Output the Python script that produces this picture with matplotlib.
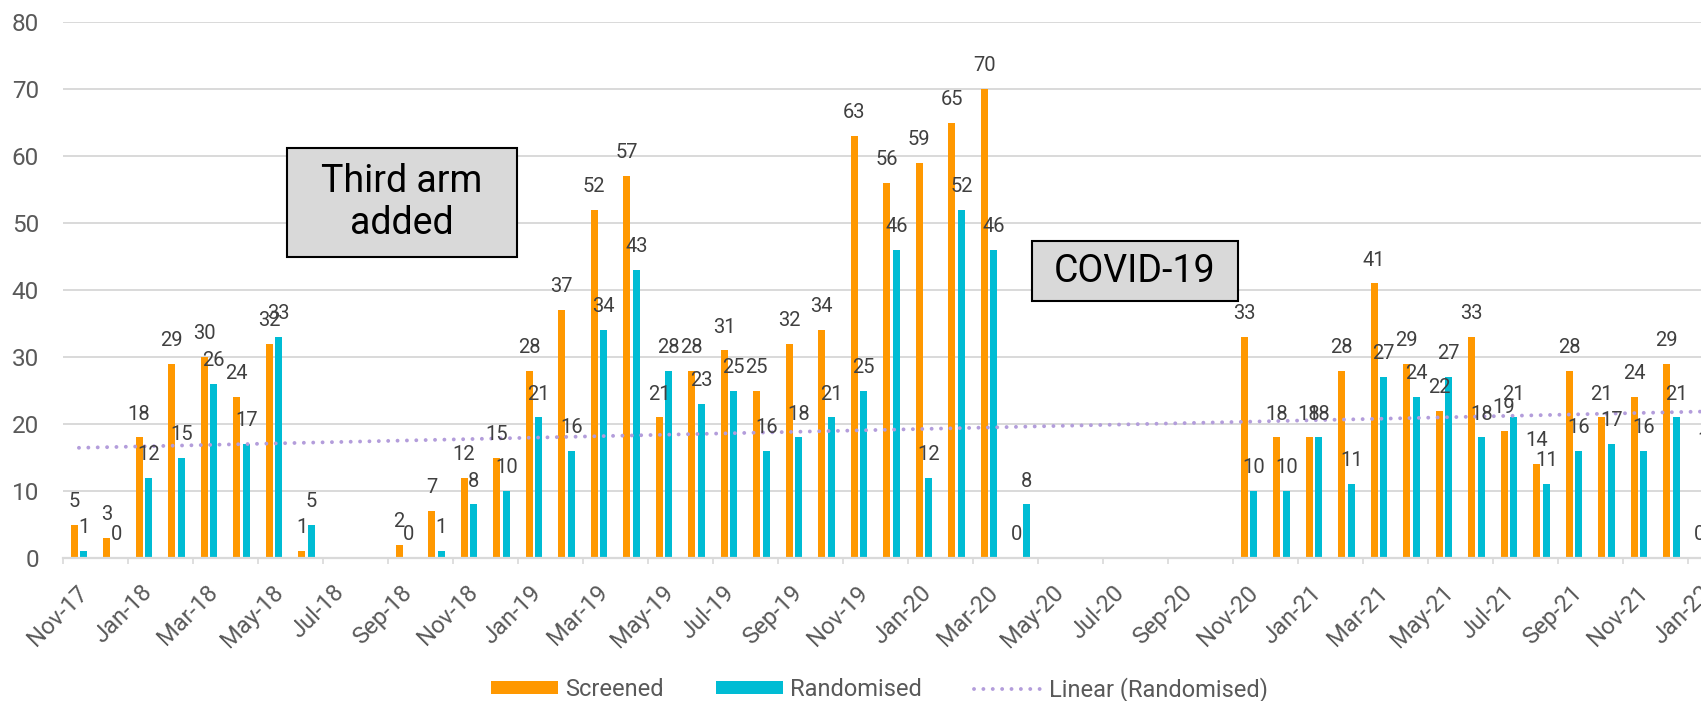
import numpy as np
import pandas as pd
import matplotlib
matplotlib.use("Agg")
import matplotlib.pyplot as plt
from matplotlib.patches import Rectangle, Patch
from matplotlib.lines import Line2D
from matplotlib.transforms import ScaledTranslation

plt.rcParams['font.family'] = ['Roboto', 'DejaVu Sans']

nan = np.nan

# Monthly categories, Nov-17 .. Jan-22
months = pd.date_range("2017-11-01", "2022-01-01", freq="MS").strftime("%b-%y").tolist()

screened = [5, 3, 18, 29, 30, 24, 32, 1, nan, nan,
            2, 7, 12, 15, 28, 37, 52, 57, 21, 28,
            31, 25, 32, 34, 63, 56, 59, 65, 70, 0,
            nan, nan, nan, nan, nan, nan,
            33, 18, 18, 28, 41, 29, 22, 33, 19, 14,
            28, 21, 24, 29, 0]
randomised = [1, 0, 12, 15, 26, 17, 33, 5, nan, nan,
              0, 1, 8, 10, 21, 16, 34, 43, 28, 23,
              25, 16, 18, 21, 25, 46, 12, 52, 46, 8,
              nan, nan, nan, nan, nan, nan,
              10, 10, 18, 11, 27, 24, 27, 18, 21, 11,
              16, 17, 16, 21, 14]

annotations = [("Third arm\nadded", 6.90, 13.98, 44.9, 61.3),
               ("COVID-19", 29.82, 36.16, 38.4, 47.3)]

ORANGE = "#FF9800"
TEAL = "#00BCD4"
TREND = "#B39DDB"
GRID = "#D9D9D9"
TICK_TXT = "#595959"
LABEL_TXT = "#404040"
DOTS = (0, (0.01, 2.4))

W, H, DPI = 1701, 701, 100
fig = plt.figure(figsize=(W / DPI, H / DPI), dpi=DPI)

n = len(months)
xmax = 52
left_px, base_px, top_px, cat_px = 62.7, 558.0, 21.7, 32.5
ax = fig.add_axes([left_px / W, (H - base_px) / H,
                   xmax * cat_px / W, (base_px - top_px) / H])

x = np.arange(n)
s = np.array(screened, dtype=float)
r = np.array(randomised, dtype=float)

bw = 0.22
xs = x + 0.35
xr = x + 0.65
ax.bar(xs, np.nan_to_num(s), width=bw, color=ORANGE, zorder=2)
ax.bar(xr, np.nan_to_num(r), width=bw, color=TEAL, zorder=2)

# Linear trend of randomised counts
ok = ~np.isnan(r)
coef = np.polyfit(x[ok] + 0.5, r[ok], 1)
tx = np.array([0.5, xmax])
ax.plot(tx, np.polyval(coef, tx), color=TREND, lw=2.8,
        linestyle=DOTS, dash_capstyle='round', zorder=3)

# Value labels above each bar
for xv, vals in ((xs, s), (xr, r)):
    for xi, v in zip(xv, vals):
        if np.isnan(v):
            continue
        ax.annotate(f"{int(v)}", (xi, v), xytext=(0, 10), textcoords="offset points",
                    ha="center", va="bottom", fontsize=14.5, color=LABEL_TXT,
                    zorder=5, annotation_clip=False)

# Boxed annotations
for text, x0, x1, y0, y1 in annotations:
    ax.add_patch(Rectangle((x0, y0), x1 - x0, y1 - y0, facecolor="#D9D9D9",
                           edgecolor="black", lw=1.5, zorder=6, clip_on=False))
    ax.text((x0 + x1) / 2, (y0 + y1) / 2, text, ha="center", va="center",
            fontsize=27, color="black", linespacing=1.15, zorder=7)

ax.set_xlim(0, xmax)
ax.set_ylim(0, 80.1)
ax.set_yticks(np.arange(0, 81, 10))
ax.yaxis.grid(True, color=GRID, lw=1.4, zorder=0)
ax.set_axisbelow(True)
for side in ("left", "right", "top"):
    ax.spines[side].set_visible(False)
ax.spines["bottom"].set_color(GRID)
ax.spines["bottom"].set_linewidth(1.6)

ax.set_xticks(x[::2])
ax.set_xticklabels(months[::2])
ax.tick_params(axis="x", length=4.5, width=1.2, color=GRID, pad=12,
               labelsize=17, labelcolor=TICK_TXT, labelrotation=45)
ax.tick_params(axis="y", length=0, pad=17, labelsize=17.5, labelcolor=TICK_TXT)
shift = ScaledTranslation(-5 / DPI, 0, fig.dpi_scale_trans)
for lab in ax.get_xticklabels():
    lab.set_transform(lab.get_transform() + shift)

handles = [Patch(facecolor=ORANGE, label="Screened"),
           Patch(facecolor=TEAL, label="Randomised"),
           Line2D([], [], color=TREND, lw=2.8, linestyle=DOTS,
                  dash_capstyle='round', label="Linear (Randomised)")]
leg = fig.legend(handles=handles, loc="center", bbox_to_anchor=(0.517, 0.017),
                 ncol=3, frameon=False, fontsize=17, handlelength=2.85,
                 handleheight=0.45, handletextpad=0.3, columnspacing=2.2,
                 labelcolor=TICK_TXT, borderaxespad=0, borderpad=0)

fig.savefig("out.png", dpi=DPI)
